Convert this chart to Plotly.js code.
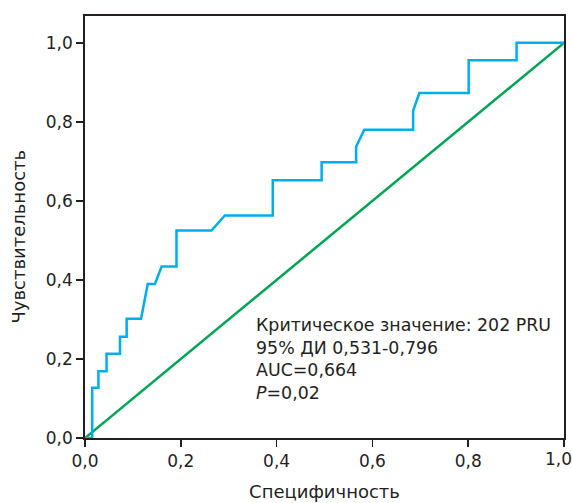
<!DOCTYPE html>
<html>
<head>
<meta charset="utf-8">
<script src="https://cdn.plot.ly/plotly-3.0.1.min.js"></script>
<style>html,body{margin:0;padding:0;background:#fff;}#chart{width:572px;height:503px;}</style>
</head>
<body>
<div id="chart"></div>
<script>
// ROC curve points (1 - specificity, sensitivity)
const rocX = [0.000, 0.015, 0.015, 0.028, 0.028, 0.045, 0.045, 0.073, 0.073, 0.087, 0.087, 0.117, 0.131, 0.146, 0.160, 0.191, 0.191, 0.264, 0.292, 0.392, 0.392, 0.494, 0.494, 0.566, 0.566, 0.583, 0.685, 0.685, 0.698, 0.801, 0.801, 0.901, 0.901, 1.000];
const rocY = [0.000, 0.000, 0.127, 0.127, 0.169, 0.169, 0.213, 0.213, 0.256, 0.256, 0.302, 0.302, 0.390, 0.390, 0.434, 0.434, 0.525, 0.525, 0.563, 0.563, 0.652, 0.652, 0.698, 0.698, 0.737, 0.780, 0.780, 0.828, 0.873, 0.873, 0.956, 0.956, 1.000, 1.000];
const refX = [0, 1];
const refY = [0, 1];
const tickVals = [0, 0.2, 0.4, 0.6, 0.8, 1.0];
const tickText = ["0,0", "0,2", "0,4", "0,6", "0,8", "1,0"];
const xTitle = "Специфичность";
const yTitle = "Чувствительность";
const noteLines = ["Критическое значение: 202 PRU", "95% ДИ 0,531-0,796", "AUC=0,664", "<i>P</i>=0,02"];

const axisColor = "#231f20";
const fam = "DejaVu Sans, Liberation Sans, Arial, sans-serif";
const font = {family: fam, size: 16, color: axisColor};

// last x tick label is drawn right-aligned so it stays inside the page
const xTickText = tickText.slice(0, -1).concat([""]);
const lastLabel = tickText[tickText.length - 1];
const lastVal = tickVals[tickVals.length - 1];

const data = [
  {x: refX, y: refY, mode: "lines", line: {color: "#00a651", width: 2.5}, hoverinfo: "skip"},
  {x: rocX, y: rocY, mode: "lines", line: {color: "#00aeef", width: 2.5}, hoverinfo: "skip"}
];

const layout = {
  width: 572, height: 503,
  margin: {l: 85, r: 8, t: 16, b: 65},
  paper_bgcolor: "#fff", plot_bgcolor: "#fff",
  showlegend: false,
  font: font,
  xaxis: {
    range: [0, 1], tickvals: tickVals, ticktext: xTickText,
    ticks: "outside", ticklen: 7, tickwidth: 1.5, tickcolor: axisColor,
    showline: true, mirror: true, linecolor: axisColor, linewidth: 1.8,
    showgrid: false, zeroline: false,
    tickfont: {family: fam, size: 17, color: axisColor},
    title: {text: xTitle, font: {family: fam, size: 18, color: axisColor}, standoff: 15}
  },
  yaxis: {
    range: [0, 1.068], tickvals: tickVals, ticktext: tickText,
    ticks: "outside", ticklen: 7, tickwidth: 1.5, tickcolor: axisColor,
    showline: true, mirror: true, linecolor: axisColor, linewidth: 1.8,
    showgrid: false, zeroline: false,
    tickfont: {family: fam, size: 17, color: axisColor}
  },
  annotations: [{
    xref: "x", yref: "y", x: 0.352, y: 0.20, xanchor: "left", yanchor: "middle",
    align: "left", showarrow: false, text: noteLines.join("<br>"),
    font: {family: fam, size: 17.4, color: axisColor}
  }, {
    xref: "x", yref: "paper", x: lastVal, y: 0, xanchor: "right", yanchor: "top",
    xshift: 10, yshift: -9, showarrow: false, text: lastLabel,
    font: {family: fam, size: 17, color: axisColor}
  }, {
    xref: "paper", yref: "paper", x: -0.138, y: 0.477, xanchor: "center", yanchor: "middle",
    textangle: -90, showarrow: false, text: yTitle,
    font: {family: fam, size: 18, color: axisColor}
  }]
};

Plotly.newPlot("chart", data, layout, {displayModeBar: false, staticPlot: true});
</script>
</body>
</html>
